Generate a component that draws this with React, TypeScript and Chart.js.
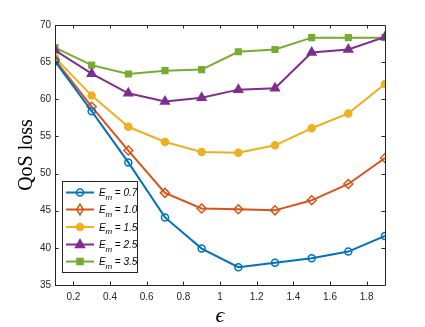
import React, { useEffect, useRef } from "react";
import { Chart, registerables } from "chart.js";

Chart.register(...registerables);

const epsValues = [0.1, 0.3, 0.5, 0.7, 0.9, 1.1, 1.3, 1.5, 1.7, 1.9];
const xTicks = [0.2, 0.4, 0.6, 0.8, 1, 1.2, 1.4, 1.6, 1.8];
const yTicks = [35, 40, 45, 50, 55, 60, 65, 70];
const em07 = [65.1, 58.4, 51.5, 44.1, 39.9, 37.4, 38.0, 38.6, 39.5, 41.6];
const em10 = [65.3, 59.0, 53.1, 47.4, 45.3, 45.2, 45.05, 46.4, 48.6, 52.1];
const em15 = [65.6, 60.5, 56.3, 54.25, 52.9, 52.8, 53.8, 56.1, 58.1, 62.05];
const em25 = [66.6, 63.45, 60.8, 59.7, 60.2, 61.3, 61.5, 66.3, 66.7, 68.4];
const em35 = [66.95, 64.6, 63.4, 63.85, 64.0, 66.4, 66.7, 68.3, 68.3, 68.3];
const legendLabels = ["0.7", "1.0", "1.5", "2.5", "3.5"];

const colors = ["#0072BD", "#D95319", "#EDB120", "#7E2F8E", "#77AC30"];
const styles = [
  { pointStyle: "circle", radius: 3.5, filled: false },
  { pointStyle: "rectRot", radius: 4.5, filled: false },
  { pointStyle: "circle", radius: 3.5, filled: true },
  { pointStyle: "triangle", radius: 5, filled: true },
  { pointStyle: "rect", radius: 4, filled: true },
];

const L = 55, R = 385, T = 25, B = 285;

function marker(ctx: CanvasRenderingContext2D, style: string, r: number, x: number, y: number) {
  ctx.beginPath();
  if (style === "circle") {
    ctx.arc(x, y, r, 0, Math.PI * 2);
  } else if (style === "rectRot") {
    ctx.moveTo(x, y - r * 1.2); ctx.lineTo(x + r * 0.75, y); ctx.lineTo(x, y + r * 1.2); ctx.lineTo(x - r * 0.75, y); ctx.closePath();
  } else if (style === "triangle") {
    ctx.moveTo(x, y - r); ctx.lineTo(x + r * 0.9, y + r * 0.6); ctx.lineTo(x - r * 0.9, y + r * 0.6); ctx.closePath();
  } else {
    const s = r * 0.75;
    ctx.rect(x - s, y - s, 2 * s, 2 * s);
  }
}

const axesPlugin = {
  id: "matlabAxes",
  afterDraw(chart: any) {
    const ctx = chart.ctx as CanvasRenderingContext2D;
    const xs = chart.scales.x;
    const ys = chart.scales.y;
    const ca = chart.chartArea;
    ctx.save();
    ctx.strokeStyle = "#262626";
    ctx.lineWidth = 1;
    ctx.beginPath();
    ctx.rect(Math.round(ca.left) + 0.5, Math.round(ca.top) + 0.5, Math.round(ca.right - ca.left), Math.round(ca.bottom - ca.top));
    ctx.stroke();
    const tl = 3.5;
    ctx.beginPath();
    xTicks.forEach((v) => {
      const px = Math.round(xs.getPixelForValue(v)) + 0.5;
      ctx.moveTo(px, ca.bottom); ctx.lineTo(px, ca.bottom - tl);
      ctx.moveTo(px, ca.top); ctx.lineTo(px, ca.top + tl);
    });
    yTicks.forEach((v) => {
      const py = Math.round(ys.getPixelForValue(v)) + 0.5;
      ctx.moveTo(ca.left, py); ctx.lineTo(ca.left + tl, py);
      ctx.moveTo(ca.right, py); ctx.lineTo(ca.right - tl, py);
    });
    ctx.stroke();

    // axis titles
    ctx.fillStyle = "#000";
    ctx.font = "20px 'Liberation Serif'";
    ctx.textAlign = "center";
    ctx.textBaseline = "middle";
    ctx.save();
    ctx.translate(27, (ca.top + ca.bottom) / 2);
    ctx.rotate(-Math.PI / 2);
    ctx.fillText("QoS loss", 0, 0);
    ctx.restore();
    ctx.font = "italic 22px 'Liberation Serif'";
    ctx.textBaseline = "alphabetic";
    ctx.fillText("ϵ", (ca.left + ca.right) / 2, 322);

    // legend
    const bx = 62.5, by = 181.5, bw = 75, bh = 91;
    ctx.fillStyle = "#fff";
    ctx.fillRect(bx, by, bw, bh);
    ctx.strokeStyle = "#262626";
    ctx.lineWidth = 1;
    ctx.strokeRect(bx, by, bw, bh);
    const rowY = [192.5, 209.5, 227, 244.5, 261.5];
    legendLabels.forEach((lab, i) => {
      const y = rowY[i];
      ctx.strokeStyle = colors[i];
      ctx.lineWidth = 2;
      ctx.beginPath();
      ctx.moveTo(66, y); ctx.lineTo(94, y);
      ctx.stroke();
      const st = styles[i];
      ctx.lineWidth = 1.5;
      marker(ctx, st.pointStyle, st.radius, 80, y);
      if (st.filled) {
        ctx.fillStyle = colors[i];
        ctx.fill();
      }
      ctx.stroke();
      ctx.fillStyle = "#000";
      ctx.textAlign = "left";
      ctx.textBaseline = "alphabetic";
      ctx.font = "italic 10px 'Liberation Sans'";
      ctx.fillText("E", 99, y + 3.5);
      ctx.font = "italic 8px 'Liberation Sans'";
      ctx.fillText("m", 105.5, y + 7);
      ctx.font = "italic 10px 'Liberation Sans'";
      ctx.fillText(" = " + lab, 112, y + 3.5);
    });
    ctx.restore();
  },
};

export default function App() {
  const ref = useRef<HTMLCanvasElement | null>(null);
  useEffect(() => {
    if (!ref.current) return;
    const series = [em07, em10, em15, em25, em35];
    const chart = new Chart(ref.current, {
      type: "line",
      data: {
        datasets: series.map((s, i) => ({
          label: "E_m = " + legendLabels[i],
          data: s.map((v, j) => ({ x: epsValues[j], y: v })),
          borderColor: colors[i],
          backgroundColor: styles[i].filled ? colors[i] : "rgba(0,0,0,0)",
          pointBackgroundColor: styles[i].filled ? colors[i] : "rgba(0,0,0,0)",
          pointBorderColor: colors[i],
          pointBorderWidth: 1.5,
          pointStyle: styles[i].pointStyle as any,
          pointRadius: styles[i].radius,
          borderWidth: 2,
          tension: 0,
          fill: false,
        })),
      },
      options: {
        responsive: false,
        animation: false,
        events: [],
        layout: { padding: { left: 0, right: 425 - R, top: T, bottom: 0 } },
        plugins: { legend: { display: false }, tooltip: { enabled: false } },
        scales: {
          x: {
            type: "linear",
            min: 0.1,
            max: 1.9,
            afterBuildTicks: (s: any) => { s.ticks = xTicks.map((v) => ({ value: v })); },
            afterFit: (s: any) => { s.height = 327 - B; },
            grid: { display: false, drawTicks: false },
            border: { display: false },
            ticks: {
              color: "#262626",
              font: { family: "'Liberation Sans'", size: 10 },
              padding: 6,
              maxRotation: 0,
              callback: (v: any) => String(Math.round(Number(v) * 10) / 10),
            },
          },
          y: {
            type: "linear",
            min: 35,
            max: 70,
            afterBuildTicks: (s: any) => { s.ticks = yTicks.map((v) => ({ value: v })); },
            afterFit: (s: any) => { s.width = L; },
            grid: { display: false, drawTicks: false },
            border: { display: false },
            ticks: {
              color: "#262626",
              font: { family: "'Liberation Sans'", size: 10 },
              padding: 4,
            },
          },
        },
      },
      plugins: [axesPlugin],
    });
    return () => chart.destroy();
  }, []);
  return (
    <div style={{ position: "absolute", left: 0, top: 0, width: 425, height: 327, background: "#fff" }}>
      <canvas ref={ref} width={425} height={327} style={{ width: 425, height: 327 }} />
    </div>
  );
}
